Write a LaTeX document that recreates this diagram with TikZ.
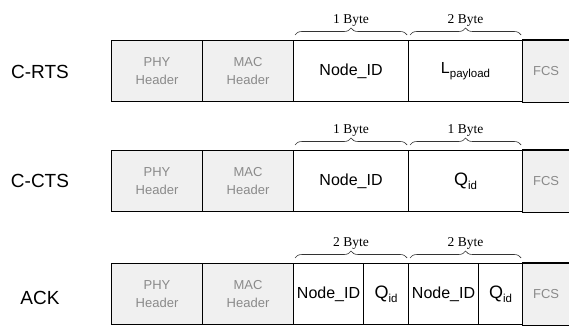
\documentclass[tikz,border=0pt]{standalone}
\usepackage{fontspec}
\setmainfont{Liberation Sans}
\newfontfamily\byteserif{Liberation Serif}
\usetikzlibrary{decorations.pathreplacing}
\definecolor{hdrfill}{HTML}{F0F0F0}
\definecolor{hdrtext}{HTML}{8A8A8A}
\tikzset{
  field/.style={draw=black, line width=1.1pt, rectangle, minimum height=61pt, inner sep=0pt, anchor=north west, font=\fontsize{16}{18}\selectfont},
  hdr/.style={field, fill=hdrfill, text=hdrtext, align=center, font=\fontsize{13}{18}\selectfont},
  fcs/.style={hdr, draw=none, minimum width=47pt},
  rowlbl/.style={font=\fontsize{19}{21}\selectfont},
  brc/.style={decorate, decoration={brace, amplitude=7pt}, line width=0.6pt, draw=black!80},
  bytelbl/.style={font=\byteserif\fontsize{13.5}{15}\selectfont, inner sep=0pt, above=8pt},
  border/.style={line width=1.1pt, draw=black}
}
\newcommand{\subtxt}[1]{\raisebox{-0.4ex}{\fontsize{11.5}{12}\selectfont #1}}
\begin{document}
\begin{tikzpicture}[x=1pt,y=-1pt]
\useasboundingbox (0,0) rectangle (569,326);
% Row labels
\node[rowlbl] (lrts) at (40,72) {C-RTS};
\node[rowlbl] (lcts) at (40,181) {C-CTS};
\node[rowlbl] (lack) at (40,298) {ACK};

% Row 1: C-RTS
\node[fcs] (r1fcs) at (522,40) {FCS};
\draw[border] (r1fcs.north west) -- (r1fcs.north east);
\draw[border] (r1fcs.south west) -- (r1fcs.south east);
\node[hdr, minimum width=91pt] (r1phy) at (111,40) {PHY\\Header};
\node[hdr, minimum width=91pt] (r1mac) at (202,40) {MAC\\Header};
\node[field, minimum width=115pt] (r1nid) at (293,40) {Node\_ID};
\node[field, minimum width=114pt] (r1len) at (408,40) {L\subtxt{payload}};
\draw[brc] ([xshift=2pt,yshift=5pt]r1nid.north west) -- ([xshift=-2pt,yshift=5pt]r1nid.north east)
  node[midway, bytelbl] (b1a) {1 Byte};
\draw[brc] ([xshift=2pt,yshift=5pt]r1len.north west) -- ([xshift=-2pt,yshift=5pt]r1len.north east)
  node[midway, bytelbl] (b1b) {2 Byte};

% Row 2: C-CTS
\node[fcs] (r2fcs) at (522,150) {FCS};
\draw[border] (r2fcs.north west) -- (r2fcs.north east);
\draw[border] (r2fcs.south west) -- (r2fcs.south east);
\node[hdr, minimum width=91pt] (r2phy) at (111,150) {PHY\\Header};
\node[hdr, minimum width=91pt] (r2mac) at (202,150) {MAC\\Header};
\node[field, minimum width=115pt] (r2nid) at (293,150) {Node\_ID};
\node[field, minimum width=114pt, font=\fontsize{18}{18}\selectfont] (r2q) at (408,150) {Q\subtxt{id}};
\draw[brc] ([xshift=2pt,yshift=5pt]r2nid.north west) -- ([xshift=-2pt,yshift=5pt]r2nid.north east)
  node[midway, bytelbl] (b2a) {1 Byte};
\draw[brc] ([xshift=2pt,yshift=5pt]r2q.north west) -- ([xshift=-2pt,yshift=5pt]r2q.north east)
  node[midway, bytelbl] (b2b) {1 Byte};

% Row 3: ACK
\node[fcs] (r3fcs) at (522,263) {FCS};
\draw[border] (r3fcs.north west) -- (r3fcs.north east);
\draw[border] (r3fcs.south west) -- (r3fcs.south east);
\node[hdr, minimum width=91pt] (r3phy) at (111,263) {PHY\\Header};
\node[hdr, minimum width=91pt] (r3mac) at (202,263) {MAC\\Header};
\node[field, minimum width=70pt] (r3nida) at (293,263) {Node\_ID};
\node[field, minimum width=45pt, font=\fontsize{18}{18}\selectfont] (r3qa) at (363,263) {Q\subtxt{id}};
\node[field, minimum width=70pt] (r3nidb) at (408,263) {Node\_ID};
\node[field, minimum width=44pt, font=\fontsize{18}{18}\selectfont] (r3qb) at (478,263) {Q\subtxt{id}};
\draw[brc] ([xshift=2pt,yshift=5pt]r3nida.north west) -- ([xshift=-2pt,yshift=5pt]r3qa.north east)
  node[midway, bytelbl] (b3a) {2 Byte};
\draw[brc] ([xshift=2pt,yshift=5pt]r3nidb.north west) -- ([xshift=-2pt,yshift=5pt]r3qb.north east)
  node[midway, bytelbl] (b3b) {2 Byte};
\end{tikzpicture}
\end{document}
